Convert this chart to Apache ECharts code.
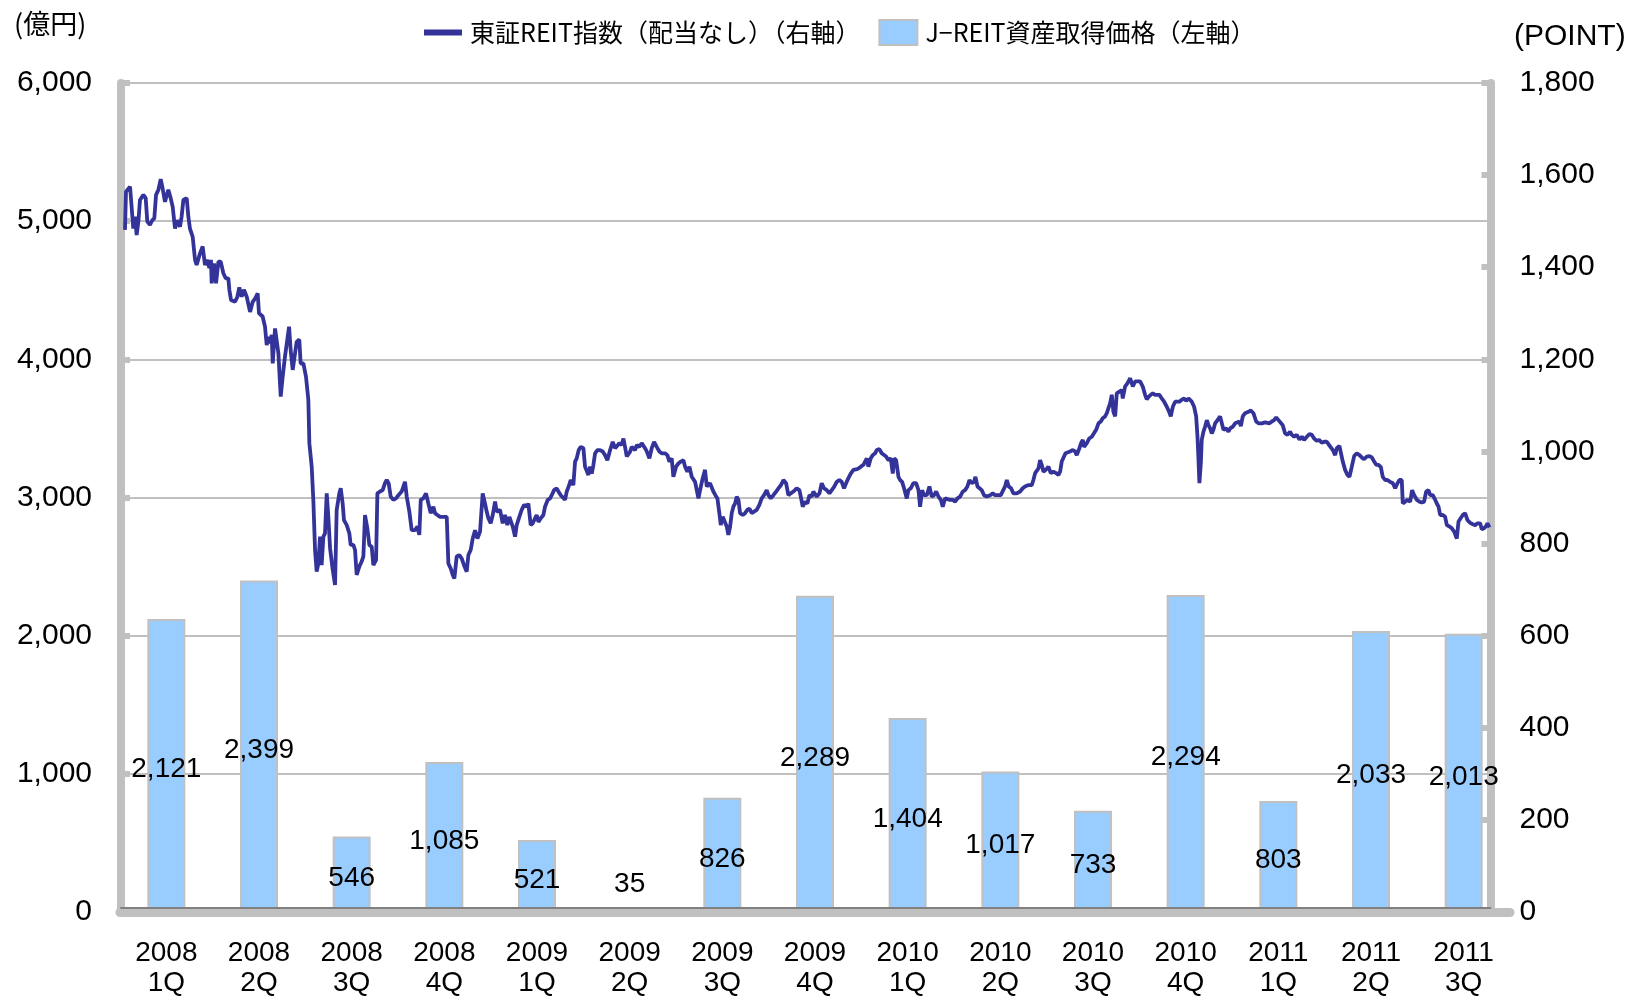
<!DOCTYPE html>
<html><head><meta charset="utf-8">
<script src="https://cdn.jsdelivr.net/npm/echarts@6/dist/echarts.min.js"></script>
<style>html,body{margin:0;padding:0;background:#fff}#c{width:1641px;height:1000px}</style>
</head><body><div id="c"></div>
<script>
// Quarter categories for the acquisition bars
const quarters = ['2008\n1Q','2008\n2Q','2008\n3Q','2008\n4Q','2009\n1Q','2009\n2Q','2009\n3Q','2009\n4Q','2010\n1Q','2010\n2Q','2010\n3Q','2010\n4Q','2011\n1Q','2011\n2Q','2011\n3Q'];
// J-REIT asset acquisition price (100 million yen, left axis)
const acquisitions = [2121,2399,546,1085,521,35,826,2289,1404,1017,733,2294,803,2033,2013];
// Axis settings (ticks)
const leftMax = 6000, leftStep = 1000;
const rightMax = 1800, rightStep = 200;
const dayMax = 1369; // days since 2008-01-01 covered by the 15 quarter bands (visible part)
// TSE REIT index (no dividends), [day since 2008-01-01, points]
const reitIndex = [
[4.9,1481],[5.9,1564],[9.9,1575],[11.5,1578],[13.1,1484],[14.8,1510],[16.4,1470],[18.1,1499],[19.7,1546],[23.0,1557],
[25.3,1550],[26.9,1499],[29.5,1492],[31.8,1502],[33.8,1506],[35.5,1557],[37.8,1568],[40.1,1591],[42.0,1571],[44.3,1542],
[47.6,1568],[49.9,1550],[51.9,1531],[54.2,1484],[56.5,1502],[59.1,1488],[60.7,1510],[62.4,1546],[65.7,1550],[67.3,1510],
[68.9,1484],[71.6,1466],[73.9,1416],[75.5,1405],[78.8,1430],[81.4,1445],[83.7,1405],[86.0,1416],[88.0,1398],[89.6,1416],
[90.3,1365],[92.6,1408],[94.6,1365],[96.9,1412],[99.2,1412],[101.8,1387],[104.1,1376],[106.7,1376],[107.7,1351],[109.3,1329],
[113.3,1325],[115.6,1336],[117.5,1356],[119.8,1336],[122.1,1351],[124.8,1336],[128.1,1303],[130.7,1325],[133.0,1332],[135.6,1343],
[136.9,1300],[140.5,1293],[142.8,1271],[144.5,1231],[146.1,1249],[147.8,1235],[149.4,1253],[150.4,1191],[152.7,1267],[154.3,1271],
[156.0,1213],[158.3,1119],[160.2,1162],[162.5,1206],[164.2,1209],[166.5,1271],[168.1,1220],[170.1,1177],[172.4,1213],[174.0,1238],
[176.6,1243],[177.9,1191],[180.6,1191],[183.2,1162],[185.5,1112],[186.5,1018],[188.8,967],[190.4,895],[192.1,786],[193.7,739],
[195.4,757],[197.0,815],[198.6,753],[200.3,815],[201.9,822],[203.6,909],[205.2,858],[206.9,790],[209.5,743],[211.8,710],
[213.4,873],[216.0,909],[217.4,920],[219.3,887],[220.6,851],[223.3,840],[225.9,822],[227.2,797],[229.8,797],[231.5,786],
[233.1,732],[235.7,750],[238.0,761],[239.7,772],[241.3,862],[243.6,833],[245.6,797],[247.9,793],[249.5,753],[252.2,764],
[253.5,909],[256.1,913],[258.7,916],[261.0,931],[262.7,938],[264.6,931],[266.6,902],[269.2,895],[271.9,898],[274.2,905],
[277.4,913],[280.7,934],[282.4,902],[285.0,869],[287.3,829],[290.6,829],[292.9,837],[294.8,819],[296.2,895],[298.8,898],
[301.4,909],[303.7,887],[306.0,866],[308.6,880],[310.3,866],[312.6,862],[315.2,858],[318.5,858],[321.8,858],[323.4,757],
[325.7,746],[327.7,732],[329.3,724],[331.6,772],[334.2,775],[336.5,768],[338.8,753],[341.5,739],[343.1,775],[345.4,786],
[347.4,811],[349.7,829],[352.0,811],[354.6,826],[357.2,909],[359.5,887],[361.2,869],[362.8,855],[365.1,844],[367.1,862],
[369.4,891],[371.0,869],[374.3,873],[376.9,844],[379.2,862],[381.5,840],[383.5,858],[385.1,862],[386.8,837],[389.1,815],
[390.7,840],[393.3,858],[395.6,873],[398.0,884],[400.6,880],[402.2,887],[403.2,866],[404.5,840],[406.5,844],[408.8,855],
[410.4,862],[412.1,847],[414.4,855],[417.0,862],[418.6,880],[421.3,895],[423.6,898],[425.2,905],[427.5,916],[430.1,920],
[431.8,913],[434.1,905],[436.0,902],[438.3,895],[440.0,913],[441.9,924],[443.9,938],[446.5,927],[448.2,978],[449.8,985],
[451.8,1003],[453.8,1010],[456.4,1007],[458.0,967],[459.7,963],[461.3,949],[463.0,967],[464.6,952],[466.2,970],[467.9,996],
[470.2,1003],[472.8,1003],[475.4,1000],[477.7,992],[480.0,981],[482.7,1003],[485.3,1021],[487.6,1007],[489.2,1010],[491.8,1018],
[494.1,1014],[495.8,1028],[497.4,1010],[499.1,989],[502.3,999],[504.0,1010],[507.3,1003],[508.9,1014],[511.5,1010],[513.8,1018],
[517.1,1007],[518.8,1000],[521.4,985],[523.7,1007],[526.0,1021],[528.6,1010],[531.2,1000],[533.5,996],[536.8,996],[539.1,992],
[541.1,978],[543.4,985],[545.0,945],[547.7,967],[550.0,974],[552.3,978],[554.9,981],[556.5,967],[558.8,956],[560.8,967],
[563.1,945],[564.7,942],[566.4,934],[568.0,938],[569.7,898],[571.3,916],[573.9,942],[576.2,960],[577.9,924],[579.5,920],
[581.1,931],[582.8,927],[584.4,913],[586.4,905],[588.4,898],[590.3,866],[591.7,840],[593.6,858],[595.3,855],[597.6,837],
[599.2,819],[600.9,837],[602.5,866],[604.1,880],[605.8,887],[607.4,902],[609.1,895],[610.7,866],[613.3,862],[615.6,866],
[617.9,873],[619.9,876],[622.2,866],[623.8,862],[627.1,873],[629.7,884],[632.0,898],[634.3,905],[636.9,916],[638.6,905],
[640.9,898],[643.5,905],[646.2,913],[648.5,920],[651.1,927],[653.4,938],[656.0,931],[658.3,905],[660.6,909],[663.2,913],
[664.9,916],[666.5,920],[669.1,916],[670.5,902],[672.4,880],[674.7,891],[677.0,887],[679.0,905],[681.3,902],[682.9,913],
[684.6,916],[686.2,902],[688.9,909],[691.1,931],[693.4,920],[696.1,916],[698.7,909],[701.0,916],[703.3,923],[705.9,934],
[708.5,938],[710.8,934],[713.1,920],[715.1,931],[717.4,942],[719.7,952],[722.3,960],[724.9,961],[727.3,963],[729.6,967],
[732.2,971],[733.8,978],[735.5,985],[737.1,967],[739.4,985],[741.4,992],[743.7,996],[745.3,1003],[747.9,1005],[750.2,996],
[751.9,996],[754.5,989],[756.8,981],[759.1,985],[761.1,952],[762.4,985],[764.4,981],[766.7,945],[768.3,938],[770.3,934],
[772.2,920],[774.9,898],[776.5,916],[778.8,920],[781.4,931],[784.1,931],[786.4,916],[788.0,880],[790.0,916],[791.9,905],
[794.6,905],[797.2,924],[799.5,902],[801.8,905],[803.8,913],[806.1,902],[808.4,895],[810.3,880],[812.6,898],[814.3,902],
[817.5,895],[820.2,895],[822.5,891],[824.8,898],[827.4,902],[830.0,913],[832.3,916],[834.6,924],[836.6,938],[838.9,931],
[841.2,934],[842.5,945],[844.5,924],[846.4,927],[848.7,916],[851.0,905],[853.7,902],[857.0,905],[859.6,909],[861.9,905],
[865.2,905],[867.5,905],[869.4,909],[871.7,924],[873.4,938],[875.3,924],[877.6,920],[879.9,909],[883.2,909],[886.5,913],
[889.1,920],[891.4,924],[894.7,927],[898.0,927],[899.6,938],[901.3,953],[902.9,949],[904.6,963],[906.2,981],[907.8,971],
[909.5,956],[911.8,960],[914.4,967],[916.7,953],[919.3,956],[922.0,953],[924.3,949],[925.9,956],[927.5,978],[929.2,981],
[931.2,996],[933.1,992],[935.7,1000],[938.4,1003],[940.7,1000],[942.3,992],[944.9,1007],[946.6,1018],[948.2,1025],[949.5,1010],
[952.2,1018],[954.5,1028],[957.1,1032],[958.7,1036],[961.4,1047],[963.7,1061],[966.0,1065],[967.9,1072],[970.2,1076],[971.9,1083],
[973.5,1094],[975.1,1104],[976.8,1123],[978.4,1086],[980.1,1076],[981.7,1126],[984.3,1130],[986.6,1133],[987.6,1115],[989.9,1141],
[992.2,1148],[994.9,1159],[997.5,1141],[999.8,1152],[1002.1,1152],[1004.7,1152],[1007.3,1141],[1009.6,1123],[1011.3,1113],[1013.2,1119],
[1015.2,1123],[1017.2,1126],[1019.5,1123],[1021.1,1126],[1023.7,1123],[1026.0,1115],[1028.3,1108],[1031.0,1097],[1033.3,1086],[1034.9,1076],
[1036.9,1097],[1039.2,1108],[1040.8,1108],[1043.4,1108],[1045.7,1112],[1048.0,1115],[1050.0,1110],[1052.3,1115],[1054.0,1118],[1055.6,1108],
[1057.9,1097],[1059.9,1076],[1061.2,1032],[1062.2,981],[1063.1,931],[1064.5,974],[1065.4,1025],[1067.1,1043],[1068.7,1054],[1070.4,1068],
[1072.0,1057],[1073.7,1050],[1075.3,1039],[1076.9,1047],[1078.6,1061],[1080.9,1068],[1083.5,1076],[1085.1,1079],[1086.8,1047],[1089.4,1050],
[1091.7,1043],[1093.4,1050],[1096.0,1054],[1098.3,1061],[1099.9,1061],[1102.5,1065],[1103.9,1055],[1105.8,1076],[1108.1,1083],[1111.4,1086],
[1113.7,1089],[1116.3,1083],[1119.0,1065],[1121.3,1061],[1124.5,1061],[1127.8,1063],[1129.5,1066],[1132.1,1061],[1134.4,1065],[1136.7,1068],
[1138.7,1074],[1141.0,1068],[1142.6,1065],[1145.2,1057],[1147.5,1039],[1149.8,1036],[1152.4,1043],[1154.1,1036],[1156.4,1032],[1159.0,1036],
[1161.6,1026],[1164.0,1032],[1166.2,1025],[1168.9,1032],[1171.5,1038],[1173.8,1036],[1176.1,1028],[1178.7,1023],[1181.0,1025],[1183.6,1019],
[1185.9,1021],[1188.6,1021],[1190.2,1016],[1191.9,1014],[1194.5,1003],[1196.8,992],[1198.4,1007],[1201.0,1012],[1202.4,1010],[1204.3,978],
[1206.6,960],[1208.9,949],[1210.9,945],[1213.2,967],[1215.5,990],[1218.1,996],[1220.7,992],[1223.0,987],[1225.3,983],[1228.0,989],
[1230.6,990],[1232.9,987],[1235.2,978],[1237.2,971],[1239.5,971],[1241.8,966],[1243.7,945],[1246.0,938],[1248.3,938],[1251.0,934],
[1253.6,931],[1255.9,920],[1258.2,931],[1260.1,938],[1262.4,938],[1263.4,887],[1265.7,891],[1268.0,895],[1270.7,891],[1272.6,916],
[1274.6,905],[1277.2,895],[1279.9,891],[1282.1,889],[1284.4,891],[1286.4,913],[1288.7,916],[1290.4,905],[1293.0,905],[1295.3,895],
[1296.9,887],[1298.6,880],[1300.2,862],[1302.8,862],[1305.1,858],[1306.8,840],[1309.4,837],[1311.7,833],[1314.0,826],[1316.6,811],
[1318.3,848],[1319.9,851],[1322.5,862],[1324.8,866],[1327.1,851],[1329.8,845],[1332.4,842],[1334.7,840],[1337.0,844],[1339.6,844],
[1341.2,831],[1343.5,833],[1345.5,838],[1346.8,844],[1348.8,835]
];
const lineName = '東証REIT指数（配当なし）（右軸）';
const barName = 'J−REIT資産取得価格（左軸）';

const fmt = v => Number(v).toLocaleString('en-US');
const LATIN = '"Liberation Sans", Arial, sans-serif';
const CJK = '"Noto Sans CJK JP", sans-serif';

const chart = echarts.init(document.getElementById('c'), null, {renderer: 'canvas'});
chart.setOption({
  animation: false,
  backgroundColor: '#ffffff',
  textStyle: {fontFamily: LATIN, color: '#000'},
  legend: {
    left: 419, top: 14, itemWidth: 38, itemHeight: 25, itemGap: 18, symbolKeepAspect: true,
    textStyle: {fontFamily: CJK, fontSize: 25, color: '#000', padding: [0, 0, 0, 3]},
    data: [
      {name: lineName, icon: 'path://M0,0 L38,0 L38,6 L0,6 Z'},
      {name: barName, icon: 'rect'}
    ]
  },
  graphic: [
    {type: 'text', left: 14, top: 10, style: {text: '(億円)', font: '27px ' + CJK, fill: '#000'}},
    {type: 'text', left: 1514, top: 22, style: {text: '(POINT)', font: '30px ' + LATIN, fill: '#000'}}
  ],
  grid: [
    {left: 120, top: 83, width: 1390, height: 829},
    {left: 121, top: 83, width: 1369.5, height: 829}
  ],
  xAxis: [
    {gridIndex: 0, type: 'category', data: quarters, z: 3,
     axisLine: {lineStyle: {color: '#c0c0c0', width: 9}},
     axisTick: {inside: true, length: 9, lineStyle: {color: '#c0c0c0', width: 8}},
     axisLabel: {interval: 0, color: '#000', fontSize: 28, lineHeight: 30, margin: 26, fontFamily: LATIN}},
    {gridIndex: 0, type: 'value', min: 0, max: dayMax, show: false},
    {gridIndex: 1, type: 'value', min: 0, max: 1, offset: -4, z: 4,
     axisLine: {show: true, lineStyle: {color: '#808080', width: 2}},
     axisTick: {show: false}, axisLabel: {show: false}, splitLine: {show: false}}
  ],
  yAxis: [
    {gridIndex: 0, type: 'value', min: 0, max: leftMax, show: false},
    {gridIndex: 0, type: 'value', min: 0, max: rightMax, show: false},
    {gridIndex: 1, type: 'value', position: 'left', min: 0, max: leftMax, interval: leftStep,
     axisLine: {show: true, lineStyle: {color: '#c0c0c0', width: 8}},
     axisTick: {show: true, inside: true, length: 9, lineStyle: {color: '#c0c0c0', width: 6}},
     axisLabel: {color: '#000', fontSize: 30, margin: 29, formatter: fmt, fontFamily: LATIN},
     splitLine: {show: true, lineStyle: {color: '#c0c0c0', width: 2}}},
    {gridIndex: 1, type: 'value', position: 'right', min: 0, max: rightMax, interval: rightStep,
     axisLine: {show: true, lineStyle: {color: '#c0c0c0', width: 8}},
     axisTick: {show: true, inside: true, length: 9, lineStyle: {color: '#c0c0c0', width: 6}},
     axisLabel: {color: '#000', fontSize: 30, margin: 29, formatter: fmt, fontFamily: LATIN},
     splitLine: {show: false}}
  ],
  series: [
    {name: barName, type: 'bar', xAxisIndex: 0, yAxisIndex: 0, barWidth: 38,
     data: acquisitions.map(v => v < 200 ? {value: v, label: {position: 'top', distance: 9, offset: [0, 0]}} : v),
     itemStyle: {color: '#99ccff', borderColor: '#c0c0c0', borderWidth: 2},
     label: {show: true, position: 'inside', offset: [0, 4], color: '#000', fontSize: 28, fontFamily: LATIN, formatter: p => fmt(p.value)}},
    {name: lineName, type: 'line', xAxisIndex: 1, yAxisIndex: 1, data: reitIndex, symbol: 'none', z: 4,
     lineStyle: {color: '#333399', width: 3.8}, itemStyle: {color: '#333399'}}
  ]
});
</script></body></html>
